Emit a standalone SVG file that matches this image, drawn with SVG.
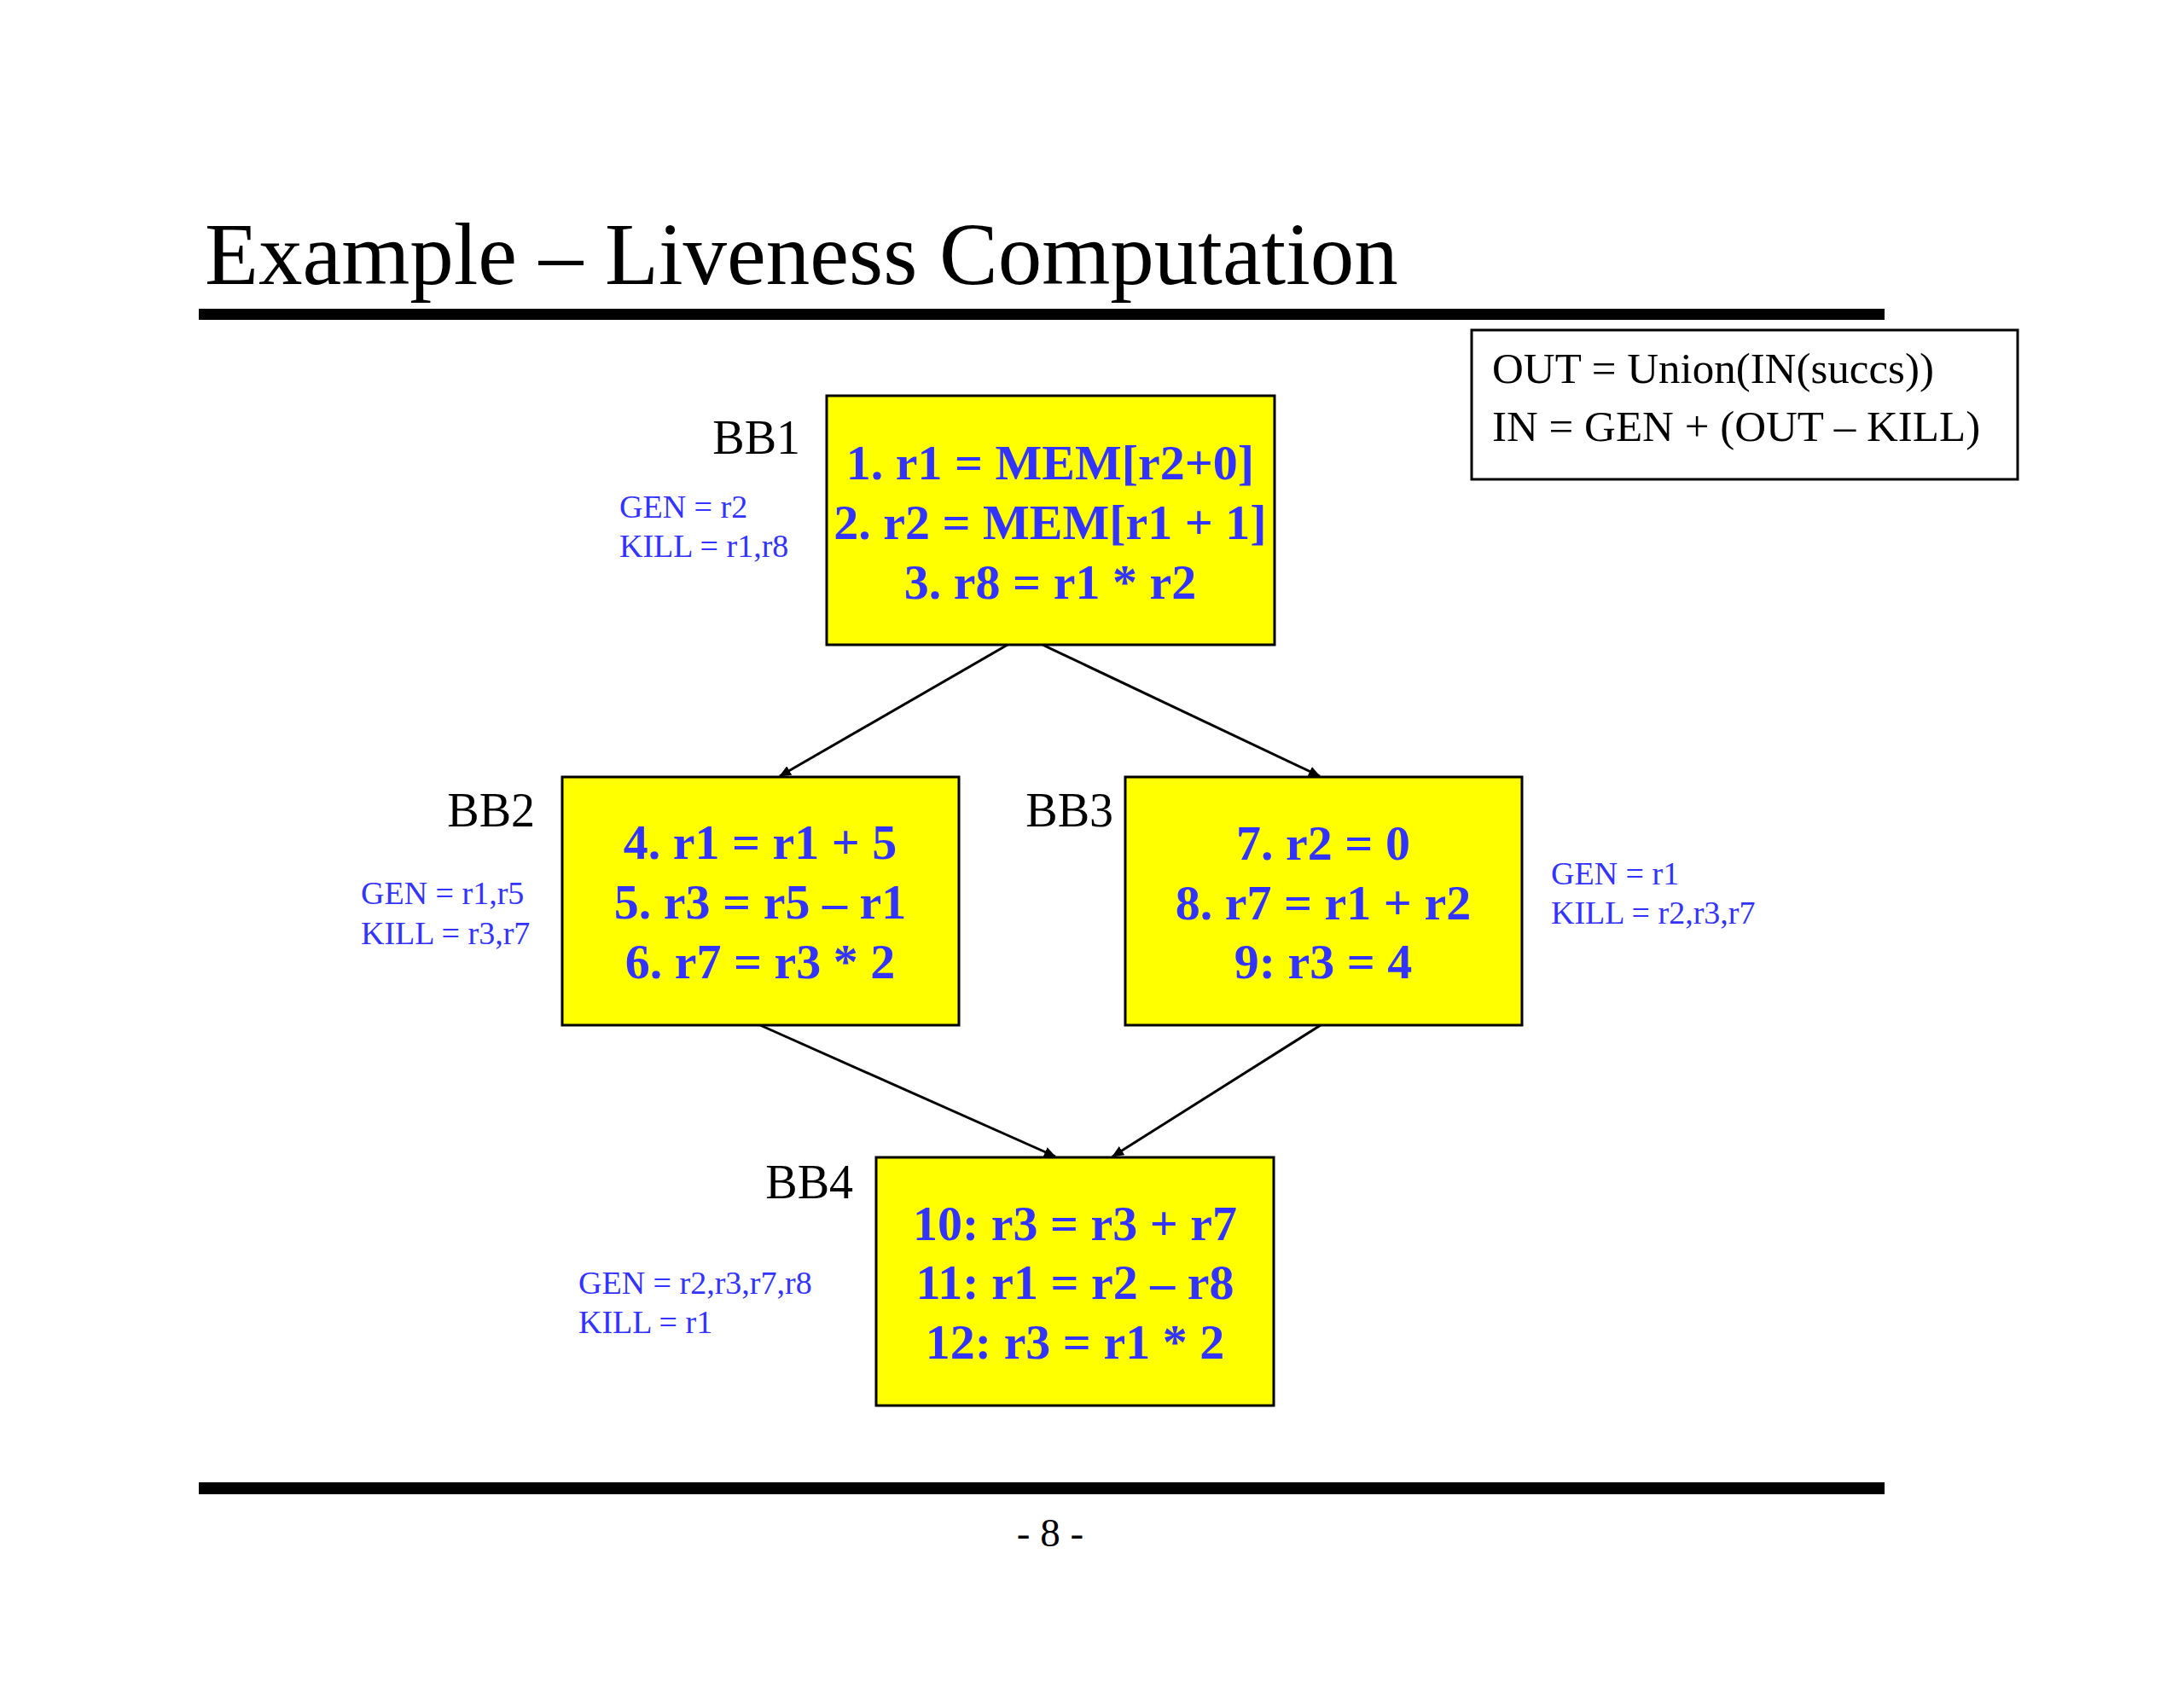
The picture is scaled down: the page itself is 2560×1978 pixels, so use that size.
<svg xmlns="http://www.w3.org/2000/svg" width="2560" height="1978" viewBox="0 0 2560 1978">
<style>
.t{font-family:"Liberation Serif","Times New Roman",serif;fill:#000}
.code{font-family:"Liberation Serif","Times New Roman",serif;font-weight:bold;font-size:58px;fill:#3333FF;text-anchor:middle}
.gk{font-family:"Liberation Serif","Times New Roman",serif;font-size:38px;fill:#3333FF}
.lbl{font-family:"Liberation Serif","Times New Roman",serif;font-size:56px;fill:#000;text-anchor:end}
.box{fill:#FFFF00;stroke:#000;stroke-width:3}
.edge{stroke:#000;stroke-width:3;fill:none;marker-end:url(#ah)}
</style>
<defs>
<marker id="ah" markerUnits="userSpaceOnUse" markerWidth="14" markerHeight="12" refX="13" refY="6" orient="auto">
<path d="M0,0 L14,6 L0,12 Z" fill="#000"/>
</marker>
</defs>
<rect width="2560" height="1978" fill="#fff"/>
<text class="t" x="240" y="333" font-size="103">Example – Liveness Computation</text>
<rect x="233" y="362" width="1976" height="13" fill="#000"/>
<rect x="233" y="1738" width="1976" height="14" fill="#000"/>
<text class="t" x="1231" y="1813" font-size="47" text-anchor="middle">- 8 -</text>
<g id="formula">
<rect x="1725" y="387" width="640" height="175" fill="#fff" stroke="#000" stroke-width="3"/>
<text class="t" x="1749" y="449" font-size="51">OUT = Union(IN(succs))</text>
<text class="t" x="1749" y="517" font-size="51">IN = GEN + (OUT – KILL)</text>
</g>
<g id="edges">
<line class="edge" x1="1181" y1="756" x2="914" y2="910"/>
<line class="edge" x1="1222" y1="756" x2="1547" y2="910"/>
<line class="edge" x1="891" y1="1202" x2="1237" y2="1356"/>
<line class="edge" x1="1548" y1="1202" x2="1304" y2="1356"/>
</g>
<g id="BB1">
<rect class="box" x="969" y="464" width="525" height="292"/>
<text class="lbl" x="938" y="532">BB1</text>
<text class="gk" x="726" y="607">GEN = r2</text>
<text class="gk" x="726" y="653">KILL = r1,r8</text>
<text class="code" x="1231" y="562">1. r1 = MEM[r2+0]</text>
<text class="code" x="1231" y="632">2. r2 = MEM[r1 + 1]</text>
<text class="code" x="1231" y="702">3. r8 = r1 * r2</text>
</g>
<g id="BB2">
<rect class="box" x="659" y="911" width="465" height="291"/>
<text class="lbl" x="627" y="969">BB2</text>
<text class="gk" x="423" y="1060">GEN = r1,r5</text>
<text class="gk" x="423" y="1107">KILL = r3,r7</text>
<text class="code" x="891" y="1007">4. r1 = r1 + 5</text>
<text class="code" x="891" y="1077">5. r3 = r5 – r1</text>
<text class="code" x="891" y="1147">6. r7 = r3 * 2</text>
</g>
<g id="BB3">
<rect class="box" x="1319" y="911" width="465" height="291"/>
<text class="lbl" x="1305" y="969">BB3</text>
<text class="gk" x="1818" y="1037">GEN = r1</text>
<text class="gk" x="1818" y="1083">KILL = r2,r3,r7</text>
<text class="code" x="1551" y="1008">7. r2 = 0</text>
<text class="code" x="1551" y="1078">8. r7 = r1 + r2</text>
<text class="code" x="1551" y="1147">9: r3 = 4</text>
</g>
<g id="BB4">
<rect class="box" x="1027" y="1357" width="466" height="291"/>
<text class="lbl" x="1000" y="1405">BB4</text>
<text class="gk" x="678" y="1517">GEN = r2,r3,r7,r8</text>
<text class="gk" x="678" y="1563">KILL = r1</text>
<text class="code" x="1260" y="1454">10: r3 = r3 + r7</text>
<text class="code" x="1260" y="1523">11: r1 = r2 – r8</text>
<text class="code" x="1260" y="1593">12: r3 = r1 * 2</text>
</g>
</svg>
